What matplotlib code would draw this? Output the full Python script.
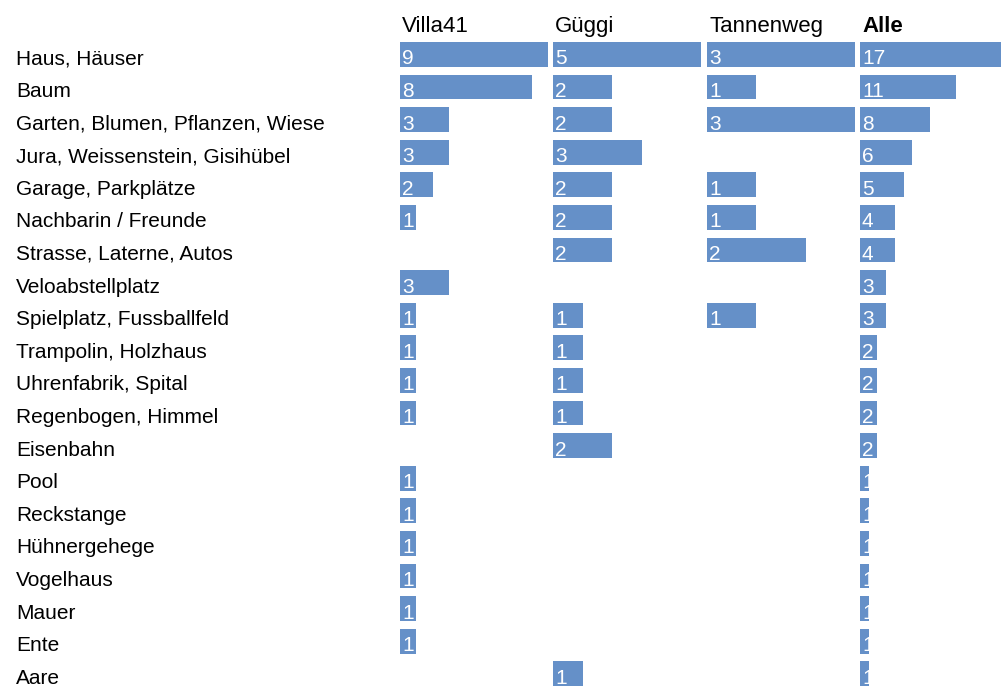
import matplotlib
matplotlib.use('Agg')
import matplotlib.pyplot as plt
import numpy as np

categories = [
    'Haus, Häuser', 'Baum', 'Garten, Blumen, Pflanzen, Wiese',
    'Jura, Weissenstein, Gisihübel', 'Garage, Parkplätze',
    'Nachbarin / Freunde', 'Strasse, Laterne, Autos', 'Veloabstellplatz',
    'Spielplatz, Fussballfeld', 'Trampolin, Holzhaus', 'Uhrenfabrik, Spital',
    'Regenbogen, Himmel', 'Eisenbahn', 'Pool', 'Reckstange', 'Hühnergehege',
    'Vogelhaus', 'Mauer', 'Ente', 'Aare',
]
villa41 = [9, 8, 3, 3, 2, 1, 0, 3, 1, 1, 1, 1, 0, 1, 1, 1, 1, 1, 1, 0]
gueggi = [5, 2, 2, 3, 2, 2, 2, 0, 1, 1, 1, 1, 2, 0, 0, 0, 0, 0, 0, 1]
tannenweg = [3, 1, 3, 0, 1, 1, 2, 0, 1, 0, 0, 0, 0, 0, 0, 0, 0, 0, 0, 0]
alle = [17, 11, 8, 6, 5, 4, 4, 3, 3, 2, 2, 2, 2, 1, 1, 1, 1, 1, 1, 1]
headers = ['Villa41', 'Güggi', 'Tannenweg', 'Alle']

plt.rcParams['font.family'] = ['Liberation Sans', 'DejaVu Sans']

W, H = 1001, 686
fig = plt.figure(figsize=(W / 100, H / 100), dpi=100)
color = '#6590c8'
fs = 15

columns = [villa41, gueggi, tannenweg, alle]
lefts = [400, 553, 707, 860]   # pixel positions of each column
colw = 148
pitch = 32.6
bh = 0.76
top = 42
n = len(categories)
ax_h = (n - 1) * pitch + bh * pitch

y = np.arange(n)
for vals, left, head in zip(columns, lefts, headers):
    ax = fig.add_axes([left / W, 1 - (top + ax_h) / H, colw / W, ax_h / H])
    ax.barh(y, vals, height=bh, color=color, align='center')
    ax.set_xlim(0, max(vals))
    ax.set_ylim(n - 1 + bh / 2, -bh / 2)
    ax.axis('off')
    for i, v in enumerate(vals):
        if v > 0:
            ax.annotate(str(v), (0, i), xytext=(2, -10), textcoords='offset pixels',
                        color='white', fontsize=fs, va='baseline', ha='left',
                        annotation_clip=False)
    fig.text((left + 2) / W, 1 - 32 / H, head, fontsize=16, va='baseline', ha='left',
             fontweight='bold' if head == 'Alle' else 'normal')

# row labels on the left
for i, c in enumerate(categories):
    yc = top + bh * pitch / 2 + i * pitch + 10
    fig.text(16 / W, 1 - yc / H, c, fontsize=fs, va='baseline', ha='left')

fig.savefig('out.png', dpi=100)
